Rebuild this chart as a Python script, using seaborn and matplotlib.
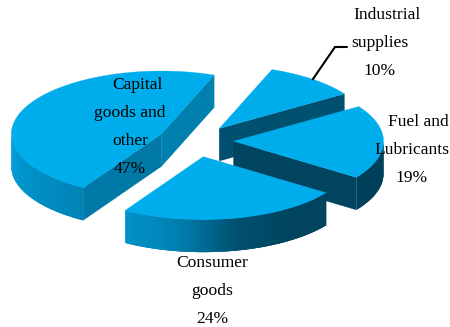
import numpy as np
import matplotlib
matplotlib.use("Agg")
import matplotlib.pyplot as plt
import seaborn as sns

# ---- data ----
categories = ["Fuel and Lubricants", "Industrial supplies", "Capital goods and other", "Consumer goods"]
shares = [19, 10, 47, 24]
label_lines = [["Fuel and", "Lubricants", "19%"],
               ["Industrial", "supplies", "10%"],
               ["Capital", "goods and", "other", "47%"],
               ["Consumer", "goods", "24%"]]
label_x = [412, 380, 130, 212]
label_y = [122, 15, 85, 263]
first_line_shift = [6.5, 7, 7, 0]
draw_order = [2, 1, 0, 3]

# ---- layout (pixels) ----
W, H = 450, 327
CX, CY = 195.5, 141
RX, RY = 150, 63
DEPTH = 32.5
EXPLODE = 38 / 150
START = -35
LINE_H = 28

sns.set_theme(style="white")
plt.rcParams["font.family"] = ["Liberation Serif", "DejaVu Sans"]

fig = plt.figure(figsize=(W / 100, H / 100), dpi=100)
ax = fig.add_axes([0, 0, 1, 1])
ax.set_xlim(-CX / RX, (W - CX) / RX)
ax.set_ylim((CY - H) / RY, CY / RY)
ax.axis("off")
d = DEPTH / RY

TOP = "#00ADEC"
shade_cap = sns.blend_palette(["#00A0DA", "#0082B2"], 62)
shade_con = sns.blend_palette(["#0094CB", "#007FAE", "#00506F", "#00445F", "#00445F"], 90)
side_cols = {2: ("#0080AE", "#0079A6"), 1: ("#005170", "#005170"), 0: ("#00445F", "#00445F"), 3: ("#004560", "#004560")}


def side_color(i, t):
    t = t % 360
    if i == 2:
        return shade_cap[int(np.clip(t - 180, 0, 61))]
    if i == 3:
        return shade_con[int(np.clip(t - 238, 0, 89))]
    return "#00405A"


edges = np.cumsum([0] + shares) / 100 * 360 + START
for rank, i in enumerate(draw_order):
    z = 2 + rank
    a0, a1 = edges[i], edges[i + 1]
    mid = np.radians((a0 + a1) / 2)
    ox, oy = EXPLODE * np.cos(mid), EXPLODE * np.sin(mid)
    t = np.radians(np.linspace(a0, a1, int(a1 - a0) * 2 + 2))
    px = ox + np.cos(t)
    py = oy + np.sin(t)
    # radial cut faces
    for ang, col, sign in ((a0, side_cols[i][0], -1), (a1, side_cols[i][1], 1)):
        if np.sin(np.radians(ang + sign * 90)) < 0:
            ex, ey = ox + np.cos(np.radians(ang)), oy + np.sin(np.radians(ang))
            ax.fill([ox, ex, ex, ox], [oy, ey, ey - d, oy - d], color=col, lw=0.2, zorder=z)
    # rounded outer wall: overlapping strips so no seams show
    for k in range(len(t) - 1):
        if np.sin((t[k] + t[k + 1]) / 2) < 0:
            e = min(k + 3, len(t) - 1)
            col = side_color(i, np.degrees((t[k] + t[k + 1]) / 2))
            xs = np.r_[px[k:e + 1], px[k:e + 1][::-1]]
            ys = np.r_[py[k:e + 1], py[k:e + 1][::-1] - d]
            ax.fill(xs, ys, color=col, lw=0, zorder=z)
    ax.fill(np.r_[ox, px], np.r_[oy, py], color=TOP, lw=0.2, zorder=z)

# leader line of the Industrial slice, from the middle of its rim
mid = np.radians((edges[1] + edges[2]) / 2)
lx = (1 + EXPLODE) * np.cos(mid)
ly = (1 + EXPLODE) * np.sin(mid)
ax.plot([lx, (335 - CX) / RX, (347 - CX) / RX], [ly, (CY - 47) / RY, (CY - 47) / RY],
        color="black", lw=1.5, zorder=8, solid_joinstyle="miter")

for lines, x0, y0, shift in zip(label_lines, label_x, label_y, first_line_shift):
    for n, line in enumerate(lines):
        x = x0 + (shift if n == 0 else 0)
        ax.text((x - CX) / RX, (CY - (y0 + n * LINE_H)) / RY, line, ha="center", va="center",
                fontsize=12.6, color="black", zorder=10)

fig.savefig("out.png", dpi=100)
